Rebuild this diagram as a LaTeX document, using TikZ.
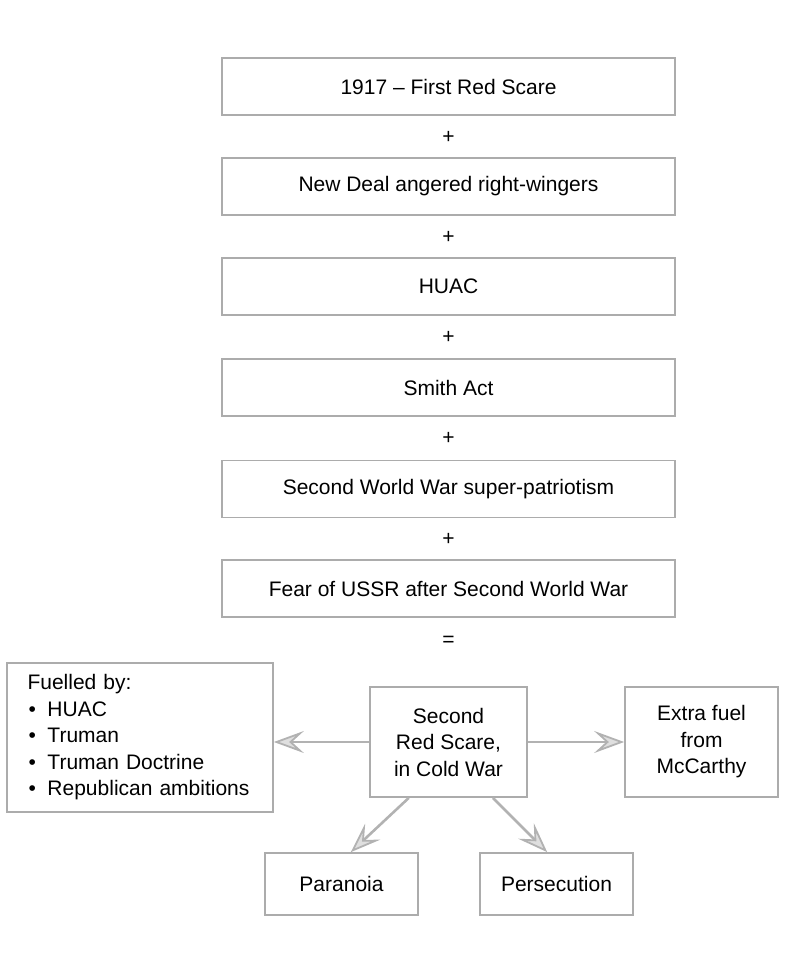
\documentclass[tikz,border=0pt]{standalone}
\usepackage{fontspec}
\setmainfont{Liberation Sans}
\usetikzlibrary{arrows.meta,calc}
\begin{document}
\begin{tikzpicture}[x=1pt,y=-1pt,
  txt/.style={font=\fontsize{21}{26.5}\selectfont},
  mainbox/.style={txt, draw=gray!65, line width=1.7pt, minimum width=453pt, minimum height=57pt, inner sep=0pt, align=center},
  sbox/.style={txt, draw=gray!65, line width=1.7pt, inner sep=0pt, align=center},
  op/.style={txt, inner sep=1pt},
  arr/.style={draw=gray!60, line width=2.6pt, -{Stealth[length=30pt,width=22pt,inset=12pt,open,fill=gray!25,line width=1.8pt]}}
]
\useasboundingbox (0,0) rectangle (801,968);

\node[mainbox] (b1) at (448.5,86.5) {1917 -- First Red Scare};
\node[op] (p1) at (448.5,137) {+};
\node[mainbox] (b2) at (448.5,186.5) {New Deal angered right-wingers};
\node[op] (p2) at (448.5,237) {+};
\node[mainbox] (b3) at (448.5,286.5) {HUAC};
\node[op] (p3) at (448.5,337) {+};
\node[mainbox] (b4) at (448.5,387.5) {Smith Act};
\node[op] (p4) at (448.5,438) {+};
\node[mainbox] (b5) at (448.5,489) {Second World War super-patriotism};
\node[op] (p5) at (448.5,539) {+};
\node[mainbox] (b6) at (448.5,588.5) {Fear of USSR after Second World War};
\node[op] (eq) at (448.5,641) {=};

\node[sbox, minimum width=266pt, minimum height=149pt, text width=225pt, align=left] (fuel) at (140,737.5)
  {Fuelled by:\\
   \makebox[20pt][l]{\hspace{1pt}\textbullet}HUAC\\
   \makebox[20pt][l]{\hspace{1pt}\textbullet}Truman\\
   \makebox[20pt][l]{\hspace{1pt}\textbullet}Truman Doctrine\\
   \makebox[20pt][l]{\hspace{1pt}\textbullet}Republican ambitions};

\node[sbox, minimum width=157pt, minimum height=110pt] (src) at (448.5,742) {Second\\Red Scare,\\in Cold War};
\node[sbox, minimum width=153pt, minimum height=110pt] (mcc) at (701.5,742) {Extra fuel\\from\\McCarthy};
\node[sbox, minimum width=153pt, minimum height=62pt] (para) at (341.5,884) {Paranoia};
\node[sbox, minimum width=153pt, minimum height=62pt] (pers) at (556.5,884) {Persecution};

\draw[arr] (src.west) -- (src.west -| fuel.east);
\draw[arr] (src.east) -- (src.east -| mcc.west);
\draw[arr] ($(src.south west)!0.25!(src.south east)$) -- ($(para.north west)!0.56!(para.north east)$);
\draw[arr] ($(src.south west)!0.78!(src.south east)$) -- ($(pers.north west)!0.44!(pers.north east)$);
\end{tikzpicture}
\end{document}
